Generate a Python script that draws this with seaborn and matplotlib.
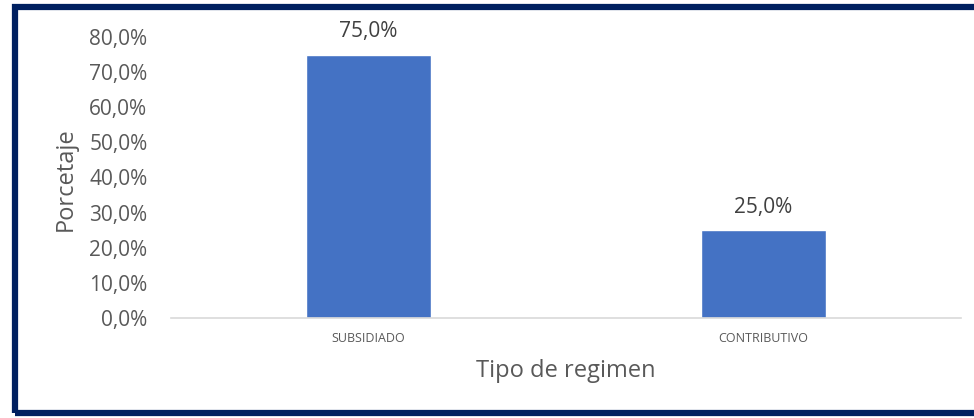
import matplotlib
matplotlib.use("Agg")
import matplotlib.pyplot as plt
import seaborn as sns
import pandas as pd
from matplotlib.patches import Rectangle
from matplotlib.ticker import FuncFormatter

categories = ["SUBSIDIADO", "CONTRIBUTIVO"]
values = [0.75, 0.25]
value_labels = ["75,0%", "25,0%"]
yticks = [0.0, 0.1, 0.2, 0.3, 0.4, 0.5, 0.6, 0.7, 0.8]

sns.set_theme(style="white")
plt.rcParams['font.family'] = ['Open Sans', 'DejaVu Sans']

W, H = 974, 418
fig = plt.figure(figsize=(W / 100, H / 100), dpi=100)
ax = fig.add_axes([171 / W, 1 - 318 / H, (961 - 171) / W, (318 - 37) / H])

df = pd.DataFrame({"cat": categories, "val": values})
sns.barplot(data=df, x="cat", y="val", color="#4472C4", saturation=1,
            width=0.316, ax=ax)

ax.set_ylim(0, 0.8)
ax.set_xlim(-0.5, 1.5)
ax.set_yticks(yticks)
ax.yaxis.set_major_formatter(FuncFormatter(lambda v, p: f"{v*100:.1f}%".replace(".", ",")))
ax.tick_params(axis="y", labelsize=15, colors="#595959", length=0, pad=17)
ax.tick_params(axis="x", labelsize=9, colors="#595959", length=0, pad=10)

for s in ["top", "right", "left"]:
    ax.spines[s].set_visible(False)
ax.spines["bottom"].set_color("#d9d9d9")
ax.spines["bottom"].set_linewidth(1.2)

for i, (v, t) in enumerate(zip(values, value_labels)):
    ax.annotate(t, (i, v), xytext=(0, 9), textcoords="offset points",
                ha="center", va="bottom", fontsize=15, color="#404040")

ax.set_xlabel("Tipo de regimen", fontsize=17, color="#595959")
ax.set_ylabel("Porcetaje", fontsize=17, color="#595959")
ax.xaxis.set_label_coords((566 - 171) / (961 - 171), -(371 - 318) / (318 - 37))
ax.yaxis.set_label_coords(-(171 - 66) / (961 - 171), (318 - 179) / (318 - 37))
ax.xaxis.label.set_va("center")
ax.yaxis.label.set_va("center")

fig.patches.append(Rectangle((15 / W, 1 - 413 / H), 1.0, (413 - 7) / H,
                             transform=fig.transFigure, fill=False,
                             edgecolor="#002060", linewidth=4.5, clip_on=False))

fig.savefig("out.png", dpi=100)
